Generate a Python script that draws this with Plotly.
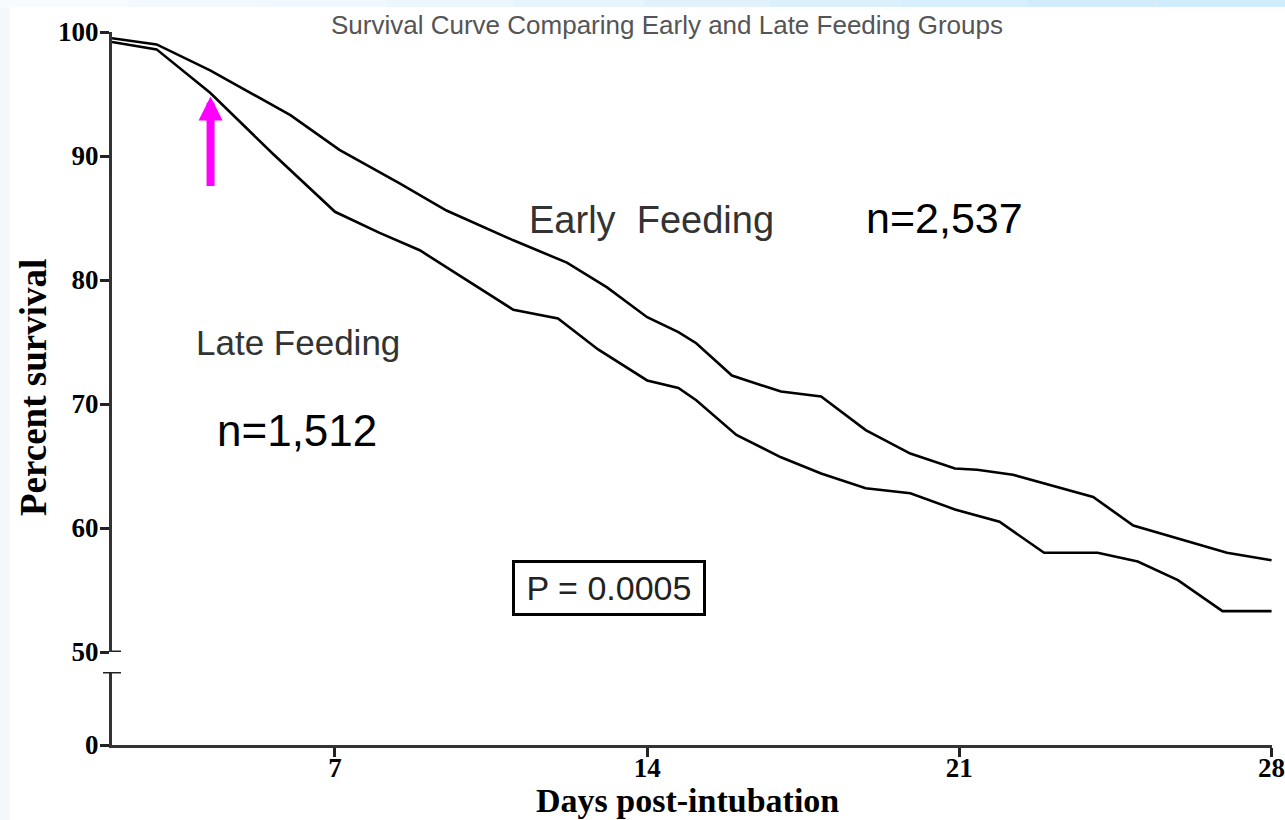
import plotly.graph_objects as go

# ---- data ----
early_days = [2.0, 3.0, 4.2, 6.0, 7.1, 8.0, 8.45, 9.5, 11.0, 12.2, 13.1, 14.0, 14.7, 15.1,
              15.9, 17.0, 17.9, 18.9, 19.9, 20.9, 21.4, 22.2, 24.0, 24.9, 27.0, 28.0]
early_surv = [99.5, 99.0, 96.9, 93.3, 90.5, 88.7, 87.8, 85.6, 83.2, 81.4, 79.4, 77.0, 75.8, 74.9,
              72.3, 71.0, 70.6, 67.9, 66.0, 64.8, 64.7, 64.3, 62.5, 60.2, 58.0, 57.4]

late_days = [2.0, 3.0, 4.2, 5.6, 7.0, 8.0, 8.9, 11.0, 12.0, 12.9, 14.0, 14.7, 15.1, 16.0,
             17.0, 17.9, 18.9, 19.9, 20.9, 21.9, 22.9, 24.1, 25.0, 25.9, 26.9, 28.0]
late_surv = [99.2, 98.6, 95.1, 90.2, 85.5, 83.8, 82.4, 77.6, 76.9, 74.4, 71.9, 71.3, 70.3, 67.5,
             65.7, 64.4, 63.2, 62.8, 61.5, 60.5, 58.0, 58.0, 57.3, 55.8, 53.3, 53.3]

x_ticks = [7, 14, 21, 28]
y_ticks_top = [50, 60, 70, 80, 90, 100]
y_ticks_bottom = [0]

title_text = "Survival Curve Comparing Early and Late Feeding Groups"
x_title = "Days post-intubation"
y_title = "Percent survival"

W, H = 1285, 820
L, R, T, B = 112, 13, 32, 75
PW, PH = W - L - R, H - T - B

def px_x(px):
    return (px - L) / PW

def px_y(py):
    return (H - B - py) / PH

fig = go.Figure()
fig.add_trace(go.Scatter(x=early_days, y=early_surv, mode="lines", name="Early Feeding",
                         line=dict(color="black", width=2.6), xaxis="x", yaxis="y"))
fig.add_trace(go.Scatter(x=late_days, y=late_surv, mode="lines", name="Late Feeding",
                         line=dict(color="black", width=2.6), xaxis="x", yaxis="y"))
# invisible trace to instantiate the lower axis segment
fig.add_trace(go.Scatter(x=[None], y=[None], xaxis="x", yaxis="y2", showlegend=False))

tickfont = dict(family="Liberation Serif", size=27, color="black", weight="bold")
axis_common = dict(showline=True, linewidth=3, linecolor="#333", ticks="outside",
                   ticklen=9, tickwidth=3, tickcolor="#222", showgrid=False, zeroline=False,
                   tickfont=tickfont, automargin=False, ticklabeloverflow="allow")

fig.update_layout(
    template="none",
    width=W, height=H,
    margin=dict(l=L, r=R, t=T, b=B, autoexpand=False),
    paper_bgcolor="white", plot_bgcolor="white",
    showlegend=False,
    xaxis=dict(domain=[0, 1], range=[2, 28.01], anchor="y2", tickvals=x_ticks,
               ticklabelstandoff=-12, **axis_common),
    yaxis=dict(domain=[px_y(652), 1], range=[50, 100], anchor="x", tickvals=y_ticks_top,
               ticklabelstandoff=-4, **axis_common),
    yaxis2=dict(domain=[0, px_y(672)], range=[0, 8], anchor="x", tickvals=y_ticks_bottom,
                ticklabelstandoff=-4, **axis_common),
)

shapes = []
# faint left strip and light-blue top band (gradient approximated by steps)
shapes.append(dict(type="rect", xref="paper", yref="paper", x0=px_x(0), x1=px_x(10),
                   y0=px_y(H), y1=px_y(0), fillcolor="#f4f8fb", line=dict(width=0), layer="below"))
band_cols = ["#f8fbfe", "#f4f9fe", "#f0f8fe", "#ebf6fd", "#e6f4fd", "#e1f2fd", "#dcf0fc", "#d7eefc", "#d3ecfc", "#d0ebfb"]
nb = len(band_cols)
for i, c in enumerate(band_cols):
    shapes.append(dict(type="rect", xref="paper", yref="paper",
                       x0=px_x(i * W / nb), x1=px_x((i + 1) * W / nb),
                       y0=px_y(7), y1=px_y(0), fillcolor=c, line=dict(width=0), layer="below"))
# axis-break marks
shapes.append(dict(type="line", xref="paper", yref="y", x0=px_x(112), x1=px_x(121), y0=50, y1=50,
                   line=dict(color="#222", width=3)))
shapes.append(dict(type="line", xref="paper", yref="y2", x0=px_x(103), x1=px_x(121), y0=8, y1=8,
                   line=dict(color="#222", width=3)))
fig.update_layout(shapes=shapes)

ann = []
ann.append(dict(text=title_text, xref="paper", yref="paper", x=px_x(667), y=px_y(25),
                showarrow=False, font=dict(family="Liberation Sans", size=26, color="#555"),
                xanchor="center", yanchor="middle"))
ann.append(dict(text=x_title, xref="paper", yref="paper", x=px_x(687), y=px_y(800),
                showarrow=False, font=dict(family="Liberation Serif", size=34, color="black", weight="bold"),
                xanchor="center", yanchor="middle"))
ann.append(dict(text=y_title, xref="paper", yref="paper", x=px_x(33), y=px_y(388), textangle=-90,
                showarrow=False, font=dict(family="Liberation Serif", size=37, color="black", weight="bold"),
                xanchor="center", yanchor="middle"))
ann.append(dict(text="Early&nbsp;&nbsp;Feeding", xref="x", yref="y", x=14.09, y=84.84, showarrow=False,
                font=dict(family="Liberation Sans", size=38, color="#333")))
ann.append(dict(text="n=2,537", xref="x", yref="y", x=20.66, y=85.0, showarrow=False,
                font=dict(family="Liberation Sans", size=43, color="black")))
ann.append(dict(text="Late Feeding", xref="x", yref="y", x=6.17, y=75.0, showarrow=False,
                font=dict(family="Liberation Sans", size=35, color="#333")))
ann.append(dict(text="n=1,512", xref="x", yref="y", x=6.14, y=67.9, showarrow=False,
                font=dict(family="Liberation Sans", size=44, color="black")))
ann.append(dict(text="P = 0.0005", xref="x", yref="y", x=13.15, y=55.2, showarrow=False,
                font=dict(family="Liberation Sans", size=34, color="#222"),
                bordercolor="black", borderwidth=3, borderpad=2, width=184, height=46,
                bgcolor="white"))
# magenta arrow pointing at the divergence
ann.append(dict(text="", xref="x", yref="y", x=4.21, y=94.8, ax=0, ay=91, axref="pixel", ayref="pixel",
                showarrow=True, arrowhead=2, arrowwidth=8, arrowsize=0.6, arrowcolor="#ff00ff"))
fig.update_layout(annotations=ann)

fig.write_html("out.html", config={"displayModeBar": False},
               post_script="document.body.style.margin='0';document.body.style.padding='0';")
